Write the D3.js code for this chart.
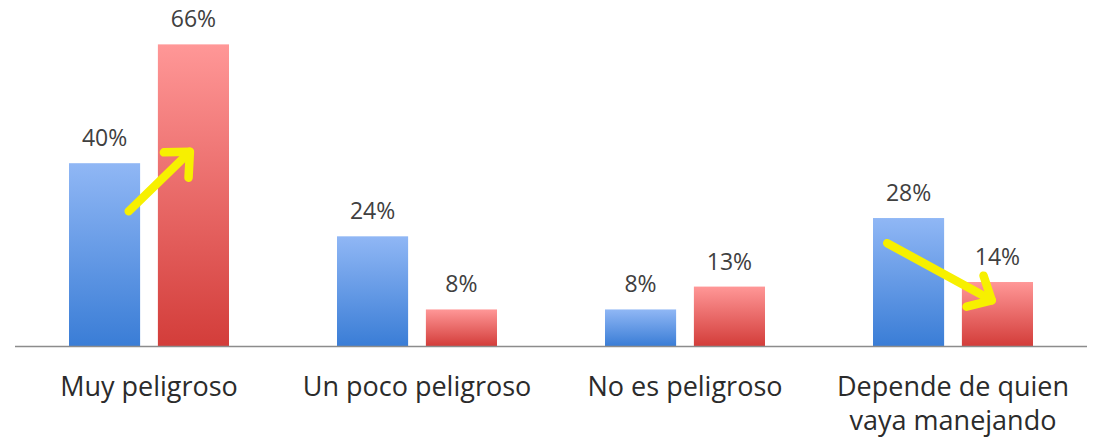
<!DOCTYPE html>
<html>
<head>
<meta charset="utf-8">
<script src="https://cdn.jsdelivr.net/npm/d3@7"></script>
<style>
  html, body { margin: 0; padding: 0; background: #fff; }
  svg { display: block; }
</style>
</head>
<body>
<svg id="chart" width="1094" height="441"></svg>
<script>
const categories = ['Muy peligroso', 'Un poco peligroso', 'No es peligroso', 'Depende de quien|vaya manejando'];
const seriesNames = ['antes', 'despues'];
const antesValues = [40, 24, 8, 28];
const despuesValues = [66, 8, 13, 14];

// arrows drawn over the bars: [category, series, position across bar (0..1), value]
const arrows = [
  {from: [0, 'antes', 0.84, 29.5], to: [0, 'despues', 0.45, 42.5]},
  {from: [3, 'antes', 0.2, 22.5], to: [3, 'despues', 0.42, 10]}
];

const conf = {
  width: 1094,
  height: 441,
  left: 15,
  right: 1087,
  baseline: 346,
  fontFamily: '"Open Sans", "DejaVu Sans", sans-serif'
};

const svg = d3.select('#chart');

const data = categories.map((c, i) => ({
  cat: c,
  values: [
    {series: 'antes', value: antesValues[i]},
    {series: 'despues', value: despuesValues[i]}
  ]
}));

// scales
const x0 = d3.scaleBand().domain(categories).range([conf.left, conf.right])
  .paddingInner(0.403).paddingOuter(0.2015);
const x1 = d3.scaleBand().domain(seriesNames).range([0, x0.bandwidth()]).paddingInner(0.2);
const y = d3.scaleLinear().domain([0, 70]).range([conf.baseline, conf.baseline - 70 * 4.57]);

// gradients
const defs = svg.append('defs');
const grads = {
  antes: ['#90b7f5', '#3a7dd6'],
  despues: ['#ff9797', '#d33d3a']
};
Object.entries(grads).forEach(([k, [top, bottom]]) => {
  const g = defs.append('linearGradient').attr('id', 'grad-' + k)
    .attr('x1', 0).attr('y1', 0).attr('x2', 0).attr('y2', 1);
  g.append('stop').attr('offset', '0%').attr('stop-color', top);
  g.append('stop').attr('offset', '100%').attr('stop-color', bottom);
});

// bars
const groups = svg.append('g').selectAll('g')
  .data(data)
  .join('g')
  .attr('transform', d => `translate(${x0(d.cat)},0)`);

groups.selectAll('rect')
  .data(d => d.values)
  .join('rect')
  .attr('x', d => x1(d.series))
  .attr('width', x1.bandwidth())
  .attr('y', d => y(d.value))
  .attr('height', d => y(0) - y(d.value))
  .attr('fill', d => `url(#grad-${d.series})`);

groups.selectAll('text.val')
  .data(d => d.values)
  .join('text')
  .attr('class', 'val')
  .attr('x', d => x1(d.series) + x1.bandwidth() / 2)
  .attr('y', d => y(d.value) - 17)
  .attr('text-anchor', 'middle')
  .attr('font-family', conf.fontFamily)
  .attr('font-size', 23)
  .attr('fill', '#404040')
  .text(d => d.value + '%');

// x axis line
svg.append('line')
  .attr('x1', conf.left).attr('x2', conf.right)
  .attr('y1', y(0) + 0.5).attr('y2', y(0) + 0.5)
  .attr('stroke', '#8c8c8c')
  .attr('stroke-width', 1.5);

// category labels, one text per line
const catLines = categories.flatMap(c => c.split('|').map((t, i) => ({cat: c, t, i})));
svg.append('g').selectAll('text')
  .data(catLines)
  .join('text')
  .attr('x', d => x0(d.cat) + x0.bandwidth() / 2)
  .attr('y', d => 396 + d.i * 34)
  .attr('text-anchor', 'middle')
  .attr('font-family', conf.fontFamily)
  .attr('font-size', 27)
  .attr('fill', '#2b2b2b')
  .text(d => d.t);

// yellow arrows
const pt = ([ci, s, f, v]) => [x0(categories[ci]) + x1(s) + f * x1.bandwidth(), y(v)];
const arrowG = svg.append('g')
  .attr('stroke', '#f7f000')
  .attr('stroke-width', 8.5)
  .attr('stroke-linecap', 'round')
  .attr('stroke-linejoin', 'round')
  .attr('fill', 'none');
arrows.forEach(a => {
  const [x1p, y1p] = pt(a.from);
  const [x2p, y2p] = pt(a.to);
  const ang = Math.atan2(y2p - y1p, x2p - x1p);
  const head = 26, spread = Math.PI / 4.2;
  arrowG.append('path')
    .attr('d', `M${x1p},${y1p}L${x2p},${y2p}`);
  arrowG.append('path')
    .attr('d', `M${x2p - head * Math.cos(ang - spread)},${y2p - head * Math.sin(ang - spread)}` +
      `L${x2p},${y2p}` +
      `L${x2p - head * Math.cos(ang + spread)},${y2p - head * Math.sin(ang + spread)}`);
});
</script>
</body>
</html>
